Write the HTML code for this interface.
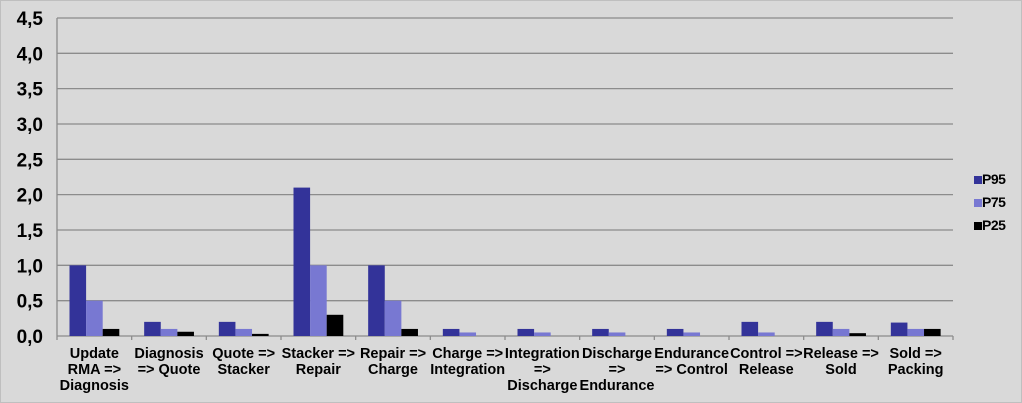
<!DOCTYPE html>
<html><head><style>
html,body{margin:0;padding:0;background:#d9d9d9;}
svg{display:block;}
text{font-family:"Liberation Sans",sans-serif;font-weight:bold;fill:#000;}
</style></head><body>
<svg width="1022" height="403" xmlns="http://www.w3.org/2000/svg">
<rect x="0" y="0" width="1022" height="403" fill="#d9d9d9"/>
<rect x="0.5" y="0.5" width="1021" height="402" fill="none" stroke="#bfbfbf"/>
<g id="g"></g>
</svg>
<script>
const g=document.getElementById('g');
const NS='http://www.w3.org/2000/svg';
function el(t,a,txt){const e=document.createElementNS(NS,t);for(const k in a)e.setAttribute(k,a[k]);if(txt!==undefined)e.textContent=txt;g.appendChild(e);return e;}
const x0=57,x1=953,y0=336,ppu=70.67;
for(let i=0;i<=9;i++){const y=y0-i*0.5*ppu;
 if(i>0) el('line',{x1:x0,x2:x1,y1:y,y2:y,stroke:'#8c8c8c','stroke-width':1.3});
 el('text',{x:43,y:y+7,'text-anchor':'end','font-size':19},(i*0.5).toFixed(1).replace('.',','));}
el('line',{x1:x0,x2:x0,y1:18,y2:y0,stroke:'#8c8c8c','stroke-width':1.3});
el('line',{x1:x0,x2:x1,y1:y0,y2:y0,stroke:'#8c8c8c','stroke-width':1.3});
const cw=(x1-x0)/12;
for(let i=0;i<=12;i++){const x=x0+i*cw;el('line',{x1:x,x2:x,y1:y0,y2:y0+4,stroke:'#8c8c8c','stroke-width':1.3});}
const P95=[1,.2,.2,2.1,1,.1,.1,.1,.1,.2,.2,.19],P75=[.5,.1,.1,1,.5,.05,.05,.05,.05,.05,.1,.1],P25=[.1,.06,.03,.3,.1,0,0,0,0,0,.04,.1];
const cols=['#333399','#7878d2','#000000'];
const labels=[["Update","RMA =>","Diagnosis"],["Diagnosis","=> Quote"],["Quote =>","Stacker"],["Stacker =>","Repair"],["Repair =>","Charge"],["Charge =>","Integration"],["Integration","=>","Discharge"],["Discharge","=>","Endurance"],["Endurance","=> Control"],["Control =>","Release"],["Release =>","Sold"],["Sold =>","Packing"]];
const bw=16.6;
for(let i=0;i<12;i++){const cx=x0+i*cw;
 [P95,P75,P25].forEach((s,j)=>{const h=s[i]*ppu;if(h>0)el('rect',{x:cx+12.5+j*bw,y:y0-h,width:bw,height:h,fill:cols[j]});});
 labels[i].forEach((l,k)=>el('text',{x:cx+cw/2,y:358+k*16,'text-anchor':'middle','font-size':14.5},l));}
[['P95',182],['P75',205],['P25',228]].forEach((p,j)=>{el('rect',{x:974,y:p[1]-6,width:8,height:8,fill:cols[j]});el('text',{x:982,y:p[1]+2,'font-size':14,'letter-spacing':'-0.5'},p[0]);});
</script>
</body></html>
